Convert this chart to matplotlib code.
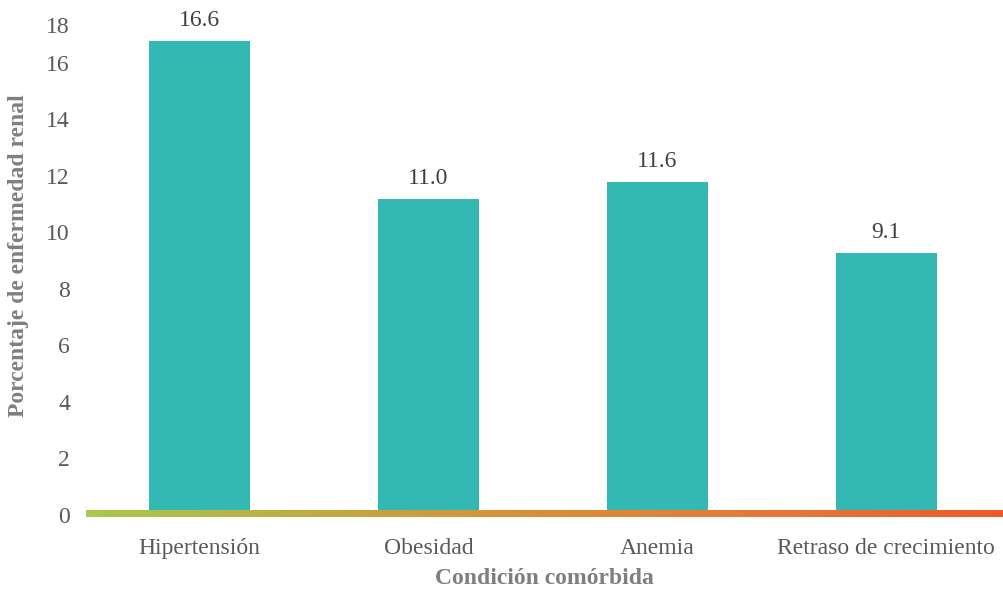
import numpy as np
import matplotlib.pyplot as plt
from matplotlib.colors import LinearSegmentedColormap
from matplotlib.transforms import ScaledTranslation

# data
categories = ['Hipertensión', 'Obesidad', 'Anemia', 'Retraso de crecimiento']
values = [16.6, 11.0, 11.6, 9.1]
yticks = [0, 2, 4, 6, 8, 10, 12, 14, 16, 18]

plt.rcParams['font.family'] = ['Liberation Serif', 'DejaVu Serif']

W, H = 1004, 589
fig = plt.figure(figsize=(W / 100, H / 100), dpi=100)
ax = fig.add_axes([86 / W, 79 / H, 916 / W, 509 / H])

x = np.arange(len(categories))
ax.bar(x, values, width=0.44, color='#33B8B4', zorder=2)
for xi, v in zip(x, values):
    ax.annotate(f'{v:.1f}', (xi, v), xytext=(0, 7), textcoords='offset points',
                ha='center', va='bottom', fontsize=17, color='#404040',
                annotation_clip=False)

ax.set_xlim(-0.495, 3.505)
ax.set_ylim(0, 18)
ax.set_xticks(x)
ax.set_xticklabels(categories, fontsize=17, color='#595959')
ax.set_yticks(yticks)
ax.set_yticklabels([str(t) for t in yticks], fontsize=17, color='#595959')
ax.tick_params(length=0)
ax.tick_params(axis='x', pad=20)
ax.tick_params(axis='y', pad=11.5)
for s in ax.spines.values():
    s.set_visible(False)

# tick labels sit a little below their gridline positions
for lab in ax.get_yticklabels():
    dy = -24 if lab.get_text() == '18' else -5
    lab.set_transform(lab.get_transform() + ScaledTranslation(0, dy / 100, fig.dpi_scale_trans))

ax.set_xlabel('Condición comórbida', fontsize=17, fontweight='bold', color='#7F7F7F')
ax.xaxis.set_label_coords(0.5, -0.114)
ax.set_ylabel('Porcentaje de enfermedad renal', fontsize=17, fontweight='bold', color='#7F7F7F')
ax.yaxis.set_label_coords(-0.062, 0.5)

# gradient baseline
cmap = LinearSegmentedColormap.from_list(
    'base', ['#A8C84E', '#C0AA45', '#D98E38', '#E6783A', '#F0582A'])
lax = fig.add_axes([86 / W, (H - 517) / H, (W - 86) / W, 7 / H])
lax.imshow(np.linspace(0, 1, 256)[None, :], aspect='auto', cmap=cmap)
lax.axis('off')

fig.savefig('out.png', dpi=100)
